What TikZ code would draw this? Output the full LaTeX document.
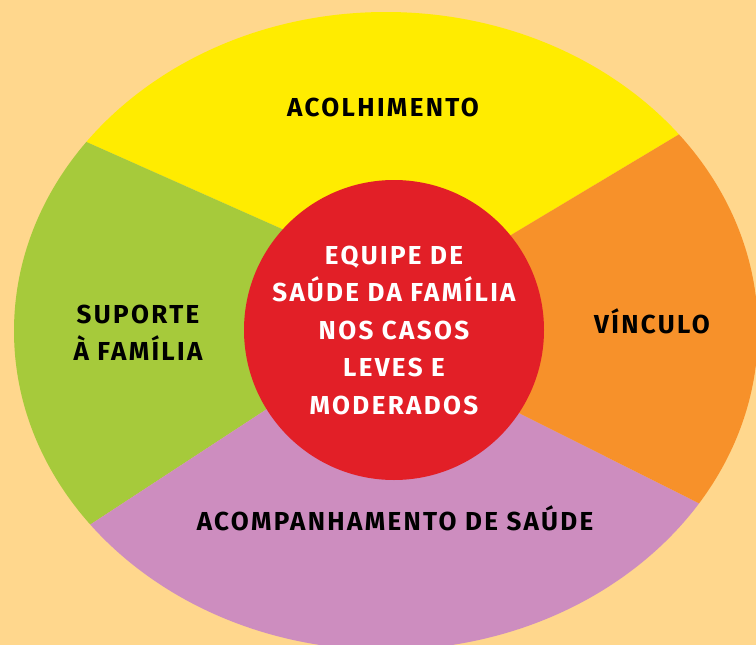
\documentclass[tikz,border=0pt]{standalone}
\usepackage{fontspec}
\setmainfont{Fira Sans}
\newfontfamily\rotfont{Fira Sans}[LetterSpace=9]
\usetikzlibrary{positioning}
\definecolor{fundo}{HTML}{FFD78D}
\definecolor{amarelo}{HTML}{FFEC00}
\definecolor{verde}{HTML}{A6CA3B}
\definecolor{laranja}{HTML}{F7912A}
\definecolor{lilas}{HTML}{CD8DBF}
\definecolor{vermelho}{HTML}{E21F27}
\tikzset{rot/.style={font=\rotfont\bfseries\fontsize{26}{37}\selectfont,align=center,text=black,inner sep=0pt},
centro/.style={circle,fill=vermelho,minimum size=300pt,inner sep=0pt,text=white,font=\rotfont\bfseries\fontsize{26}{37.5}\selectfont,align=center}}

\begin{document}
\begin{tikzpicture}[x=1pt,y=-1pt]
			\fill[fundo] (0,0) rectangle (756,645);
			\coordinate (m) at (394,330);
			\coordinate (yg) at (282,229);
			\coordinate (yo) at (511,235);
			\coordinate (gp) at (267,409);
			\coordinate (op) at (521,414);
			\coordinate (YG) at (-100,59);
			\coordinate (YO) at (860,26);
			\coordinate (GP) at (-100,649);
			\coordinate (OP) at (860,584);

			\begin{scope}
				\clip (0,0) rectangle (756,645);
				\clip (386,331) ellipse [x radius=372, y radius=319];
				\fill[amarelo] (m) -- (yg) -- (YG) -- (-100,-100) -- (860,-100) -- (YO) -- (yo) -- cycle;
				\fill[verde] (m) -- (yg) -- (YG) -- (GP) -- (gp) -- cycle;
				\fill[lilas] (m) -- (gp) -- (GP) -- (-100,800) -- (860,800) -- (OP) -- (op) -- cycle;
				\fill[laranja] (m) -- (op) -- (OP) -- (YO) -- (yo) -- cycle;
			\end{scope}

			\node[centro] (esf) at (m) {EQUIPE DE\\SAÚDE DA FAMÍLIA\\NOS CASOS\\LEVES E\\MODERADOS};
			\node[rot] (acolh) at (383,107) {ACOLHIMENTO};
			\node[rot] (suporte) at (138,333) {SUPORTE\\À FAMÍLIA};
			\node[rot] (vinculo) at (652,321) {VÍNCULO};
			\node[rot] (acomp) at (395,518) {ACOMPANHAMENTO DE SAÚDE};
		\end{tikzpicture}
\end{document}
